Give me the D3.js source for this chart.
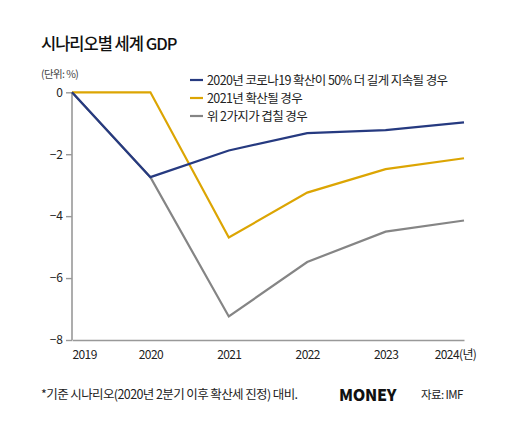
<!DOCTYPE html>
<html><head><meta charset="utf-8">
<script src="https://cdn.jsdelivr.net/npm/d3@7"></script>
<style>
html,body{margin:0;padding:0;background:#fff;}
text{font-family:"Noto Sans CJK KR","Noto Sans",sans-serif;}
</style></head>
<body><svg id="c" width="520" height="429"></svg>
<script>
const years = [2019, 2020, 2021, 2022, 2023, 2024];
const yearLabels = ["2019", "2020", "2021", "2022", "2023", "2024(년)"];
const seriesNames = ["2020년 코로나19 확산이 50% 더 길게 지속될 경우", "2021년 확산될 경우", "위 2가지가 겹칠 경우"];
const longer2020 = [0, -2.74, -1.88, -1.32, -1.22, -0.97];
const spread2021 = [0, 0, -4.69, -3.24, -2.48, -2.13];
const both = [0, -2.74, -7.24, -5.48, -4.5, -4.14];
const yTicks = [0, -2, -4, -6, -8];
const colors = ["#263a80", "#dca503", "#858585"];

const svg = d3.select("#c");
const x = d3.scaleLinear().domain([2019, 2024]).range([72, 464]);
const y = d3.scaleLinear().domain([-8, 0]).range([340, 92.3]);

svg.append("text").attr("x", 41).attr("y", 50).attr("font-size", 16.5).attr("font-weight", 500)
  .attr("letter-spacing", -1).attr("fill", "#111").text("시나리오별 세계 GDP");
svg.append("text").attr("x", 41).attr("y", 78).attr("font-size", 10.5).attr("letter-spacing", -0.6)
  .attr("fill", "#444").text("(단위: %)");

// y axis
const ya = svg.append("g").attr("transform", "translate(72,0)")
  .call(d3.axisLeft(y).tickValues(yTicks).tickFormat(d3.format("d")).tickSize(6).tickPadding(3));
ya.select(".domain").attr("stroke", "#999").attr("stroke-width", 1.6).attr("d", `M0,${y(0)}V${y(-8)}`);
ya.selectAll(".tick line").attr("stroke", "#999").attr("stroke-width", 1.4);
ya.selectAll(".tick text").attr("font-size", 12).attr("fill", "#222").attr("font-family", "Noto Sans CJK KR");

// x axis
const xa = svg.append("g").attr("transform", `translate(0,${y(-8)})`)
  .call(d3.axisBottom(x).tickValues(years).tickFormat((d, i) => yearLabels[i]).tickSize(0).tickPadding(10));
xa.select(".domain").attr("stroke", "#999").attr("stroke-width", 1.6);
xa.selectAll(".tick text").attr("font-size", 12).attr("fill", "#222").attr("letter-spacing", -0.6)
  .attr("font-family", "Noto Sans CJK KR")
  .attr("text-anchor", (d, i) => i === 0 ? "start" : "middle")
  .attr("dx", (d, i) => i === years.length - 1 ? -9 : 0);

// lines
const data = [longer2020, spread2021, both];
const line = d3.line().x((d, i) => x(years[i])).y(d => y(d));
[2, 1, 0].forEach(k => {
  svg.append("path").datum(data[k]).attr("d", line).attr("fill", "none")
    .attr("stroke", colors[k]).attr("stroke-width", 2.2).attr("stroke-linejoin", "miter");
});

// legend
const lg = svg.append("g");
seriesNames.forEach((n, i) => {
  const yy = 80 + i * 18;
  lg.append("line").attr("x1", 190).attr("x2", 203).attr("y1", yy).attr("y2", yy)
    .attr("stroke", colors[i]).attr("stroke-width", 2.2);
  lg.append("text").attr("x", 207).attr("y", yy + 4.5).attr("font-size", 12.5).attr("letter-spacing", -0.6)
    .attr("fill", "#222").text(n);
});

// footer
svg.append("text").attr("x", 41).attr("y", 399).attr("font-size", 12.5).attr("letter-spacing", -0.6)
  .attr("fill", "#222").text("*기준 시나리오(2020년 2분기 이후 확산세 진정) 대비.");
svg.append("text").attr("x", 339).attr("y", 401).attr("font-size", 16).attr("font-weight", 900)
  .attr("font-family", "Liberation Sans Narrow, DejaVu Sans Condensed, sans-serif").attr("letter-spacing", -0.3)
  .attr("fill", "#111").text("MONEY");
svg.append("text").attr("x", 421).attr("y", 399).attr("font-size", 11.5).attr("letter-spacing", -0.6)
  .attr("fill", "#222").text("자료: IMF");
</script></body></html>
